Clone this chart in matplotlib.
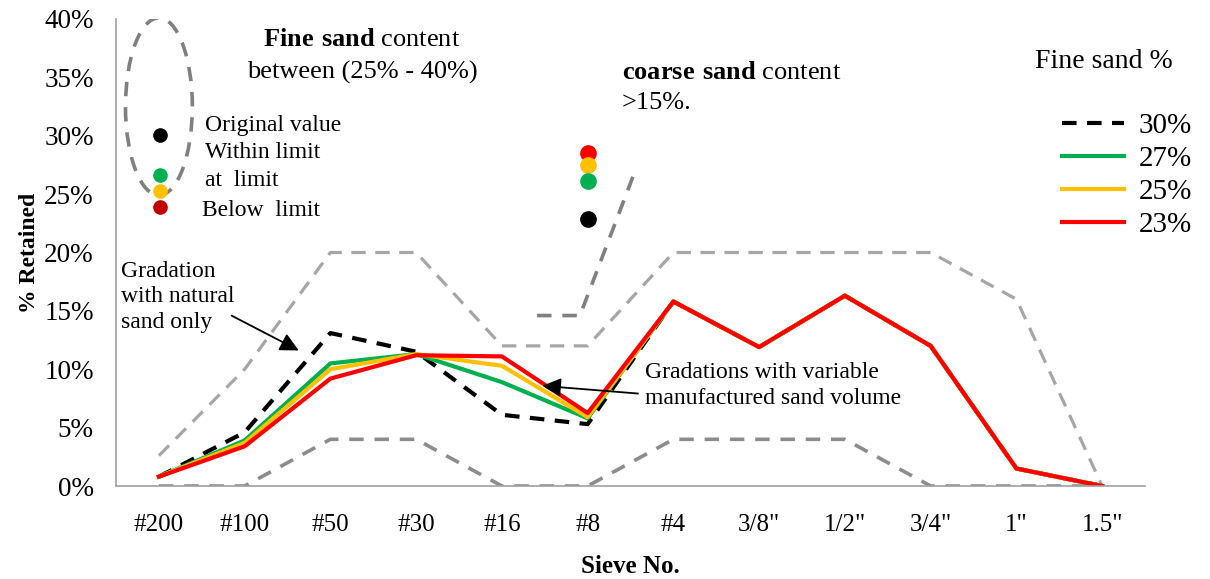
import matplotlib
matplotlib.use('Agg')
import matplotlib.pyplot as plt
from matplotlib.patches import Ellipse
import numpy as np

plt.rcParams['font.family'] = ['Liberation Serif', 'DejaVu Serif']
plt.rcParams['mathtext.fontset'] = 'custom'
plt.rcParams['mathtext.rm'] = 'Liberation Serif'
plt.rcParams['mathtext.bf'] = 'Liberation Serif:bold'

# Sieve sizes and % retained
sieves = ['#200', '#100', '#50', '#30', '#16', '#8', '#4', '3/8"', '1/2"', '3/4"', '1"', '1.5"']
upper_limit = [2.6, 10, 20, 20, 12, 12, 20, 20, 20, 20, 16, 0]
lower_limit = [0, 0, 4, 4, 0, 0, 4, 4, 4, 0, 0, 0]

fine_30 = [0.8, 4.6, 13.1, 11.5, 6.1, 5.3, 15.8, 11.9, 16.3, 12.0, 1.5, 0]
fine_27 = [0.8, 3.9, 10.5, 11.3, 8.9, 5.8, 15.8, 11.9, 16.3, 12.0, 1.5, 0]
fine_25 = [0.8, 3.7, 10.0, 11.3, 10.3, 5.9, 15.8, 11.9, 16.3, 12.0, 1.5, 0]
fine_23 = [0.8, 3.4, 9.2, 11.2, 11.1, 6.25, 15.8, 11.9, 16.3, 12.0, 1.5, 0]

# coarse sand limit segment (x in sieve index units)
coarse_x = [4.41, 4.91, 5.57]
coarse_y = [14.6, 14.6, 27.3]

# marker legends
fine_dot_y = [30.1, 26.6, 25.3, 23.9]
fine_dot_colors = ['#000000', '#00B050', '#FFC000', '#C00000']
coarse_dot_y = [28.5, 27.5, 26.1, 22.9]
coarse_dot_colors = ['#FF0000', '#FFC000', '#00B050', '#000000']

x = np.arange(len(sieves))

fig = plt.figure(figsize=(12.1, 5.79), dpi=100)
ax = fig.add_axes([0.0959, 0.1606, 0.8504, 0.8066])

ax.plot(x, upper_limit, color='#A6A6A6', lw=2.3, dashes=(4.5, 3))
ax.plot(x, lower_limit, color='#8C8C8C', lw=2.6, dashes=(4, 3))
ax.plot(coarse_x, coarse_y, color='#808080', lw=2.6, dashes=(4, 3))

l30, = ax.plot(x, fine_30, color='black', lw=3, dashes=(3.5, 2.5))
l27, = ax.plot(x, fine_27, color='#00B050', lw=3)
l25, = ax.plot(x, fine_25, color='#FFC000', lw=3)
l23, = ax.plot(x, fine_23, color='#FF0000', lw=3)

# fine sand ellipse and dots
ax.add_patch(Ellipse((0.0, 32.5), 0.78, 15.2, fill=False, ec='#808080', lw=2.6, ls=(0, (4, 3))))
for yv, c in zip(fine_dot_y, fine_dot_colors):
    ax.plot(0.01, yv, 'o', color=c, ms=9.5)
for yv, c in zip(coarse_dot_y, coarse_dot_colors):
    ax.plot(5.0, yv, 'o', color=c, ms=11)

ax.set_xlim(-0.5, 11.5)
ax.set_ylim(0, 40)
ax.set_xticks(x)
ax.set_xticklabels(sieves, fontsize=18)
ax.set_yticks(np.arange(0, 41, 5))
ax.set_yticklabels([f'{v}%' for v in range(0, 41, 5)], fontsize=19.5)
ax.tick_params(axis='x', length=0, pad=20)
ax.tick_params(axis='y', length=0, pad=16)
for s in ['top', 'right']:
    ax.spines[s].set_visible(False)
for s in ['left', 'bottom']:
    ax.spines[s].set_color('#A0A0A0')
    ax.spines[s].set_linewidth(1.2)

ax.set_xlabel('Sieve No.', fontsize=18, fontweight='bold', labelpad=14)
ax.set_ylabel('% Retained', fontsize=17, fontweight='bold', labelpad=3)

# text annotations
ax.text(2.37, 38.2, r'$\bf{Fine\ sand}$ content', fontsize=19, ha='center', va='center')
ax.text(2.37, 35.4, 'between (25% - 40%)', fontsize=19, ha='center', va='center')
ax.text(5.40, 35.4, r'$\bf{coarse\ sand}$ content', fontsize=19, ha='left', va='center')
ax.text(5.40, 32.8, '>15%.', fontsize=19, ha='left', va='center')

ax.text(0.54, 30.9, 'Original value', fontsize=17, ha='left', va='center')
ax.text(0.54, 28.6, 'Within limit', fontsize=17, ha='left', va='center')
ax.text(0.54, 26.2, 'at  limit', fontsize=17, ha='left', va='center')
ax.text(0.50, 23.6, 'Below  limit', fontsize=17, ha='left', va='center')

ax.text(-0.44, 16.2, 'Gradation\nwith natural\nsand only', fontsize=17, ha='left', va='center',
        linespacing=1.3)
ax.annotate('', xy=(1.66, 11.5), xytext=(0.82, 14.7),
            arrowprops=dict(arrowstyle='-|>', mutation_scale=28, lw=1.3, color='black'))
ax.text(5.67, 8.6, 'Gradations with variable\nmanufactured sand volume', fontsize=17,
        ha='left', va='center', linespacing=1.3)
ax.annotate('', xy=(4.44, 8.6), xytext=(5.62, 7.9),
            arrowprops=dict(arrowstyle='-|>', mutation_scale=28, lw=1.3, color='black'))

# legend outside to the right
fig.text(1035 / 1210, 1 - 62 / 579, 'Fine sand %', fontsize=20, ha='left', va='center')
leg = fig.legend([l30, l27, l25, l23], ['30%', '27%', '25%', '23%'],
                 loc='upper left', bbox_to_anchor=(1050 / 1210, 1 - 101 / 579),
                 frameon=False, fontsize=21, handlelength=2.15, handletextpad=0.5,
                 labelspacing=0.23, borderaxespad=0)

fig.savefig('out.png', dpi=100)
